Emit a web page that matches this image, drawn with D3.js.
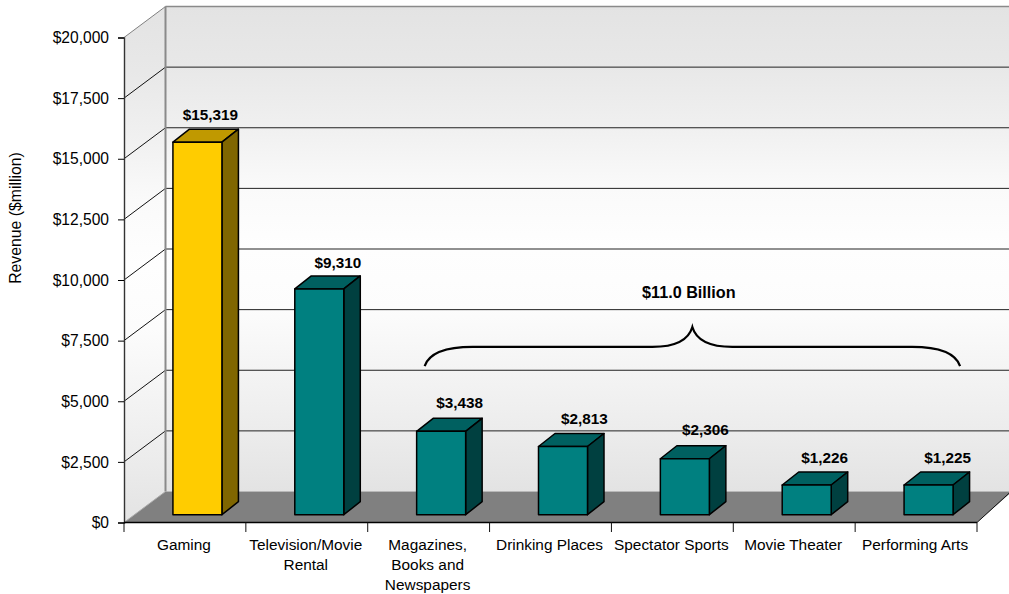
<!DOCTYPE html>
<html><head><meta charset="utf-8">
<script src="https://cdn.jsdelivr.net/npm/d3@7/dist/d3.min.js"></script>
<style>html,body{margin:0;padding:0;background:#fff}svg{display:block}text{font-family:"Liberation Sans",Arial,sans-serif;fill:#000}</style>
</head><body><svg id="c" width="1009" height="594"></svg>
<script>
const categories=[["Gaming"],["Television/Movie","Rental"],["Magazines,","Books and","Newspapers"],["Drinking Places"],["Spectator Sports"],["Movie Theater"],["Performing Arts"]];
const revenue=[15319,9310,3438,2813,2306,1226,1225];
const highlight=[true,false,false,false,false,false,false];
const yTicks=[0,2500,5000,7500,10000,12500,15000,17500,20000];
const axisTitle="Revenue ($million)";
const braceLabel="$11.0 Billion";

const svg=d3.select("#c");
const FS=15.4,FB=15.3;
const x=d3.scaleBand().domain(d3.range(categories.length)).range([124,977]).paddingInner(0).paddingOuter(0);
const y=d3.scaleLinear().domain([0,20000]).range([522.5,37.5]);
const fmt=v=>"$"+d3.format(",")(v);
const DX=41.5,DY=-31;
const defs=svg.append("defs");
const g=defs.append("linearGradient").attr("id","wall").attr("x1",0).attr("x2",0).attr("y1",0).attr("y2",1);
[[0,"#e3e3e3"],[.125,"#e8e8e8"],[.25,"#f0f0f0"],[.375,"#fafafa"],[.5,"#fefefe"],[.625,"#fcfcfc"],[.75,"#f4f4f4"],[.875,"#ececec"],[1,"#e3e3e3"]].forEach(s=>g.append("stop").attr("offset",s[0]).attr("stop-color",s[1]));
const x0=x.range()[0],x1=x.range()[1],y0=y(0),yT=y(20000);
const line=d3.line();
const poly=(pts,fill,stroke,w)=>svg.append("path").attr("d",line(pts)+"Z").attr("fill",fill).attr("stroke",stroke||"none").attr("stroke-width",w||0).attr("stroke-linejoin","round");
poly([[x0+DX,yT+DY],[1010,yT+DY],[1010,y0+DY],[x0+DX,y0+DY]],"url(#wall)");
poly([[x0,yT],[x0+DX,yT+DY],[x0+DX,y0+DY],[x0,y0]],"url(#wall)");
poly([[x0,y0],[x0+DX,y0+DY],[1012,y0+DY],[x1,y0]],"#808080");
yTicks.forEach(t=>{
  const top=t===20000,bot=t===0;
  if(!bot) svg.append("line").attr("x1",x0+DX).attr("x2",1010).attr("y1",y(t)+DY).attr("y2",y(t)+DY).attr("stroke",top?"#8a8a8a":"#222").attr("stroke-width",top?1.6:1);
  if(!bot) svg.append("line").attr("x1",x0).attr("x2",x0+DX).attr("y1",y(t)).attr("y2",y(t)+DY).attr("stroke",top?"#808080":"#111").attr("stroke-width",1);
});
svg.append("line").attr("x1",x0+DX).attr("x2",x0+DX).attr("y1",yT+DY).attr("y2",y0+DY).attr("stroke","#8a8a8a").attr("stroke-width",2);
svg.append("line").attr("x1",x0).attr("x2",x0+DX).attr("y1",y0).attr("y2",y0+DY).attr("stroke","#aaa").attr("stroke-width",1);
svg.append("line").attr("x1",x1).attr("x2",1012).attr("y1",y0).attr("y2",y0+DY*1.03).attr("stroke","#111").attr("stroke-width",1);
const yAxis=d3.axisLeft(y).tickValues(yTicks).tickFormat(fmt).tickSize(6).tickPadding(9);
const ya=svg.append("g").attr("transform",`translate(${x0},0)`).call(yAxis);
ya.select(".domain").attr("stroke","#333").attr("stroke-width",1.4);
ya.selectAll("text").attr("font-size",15.6).attr("fill","#000").attr("dy","0.33em");
svg.append("line").attr("x1",x0).attr("x2",x1).attr("y1",y0).attr("y2",y0).attr("stroke","#000").attr("stroke-width",1.3);
d3.range(categories.length+1).forEach(i=>{
  const tx=i<categories.length?x(i):x1;
  svg.append("line").attr("x1",tx).attr("x2",tx).attr("y1",y0).attr("y2",y0+9.5).attr("stroke","#111").attr("stroke-width",1);
});
const lab=svg.append("g");
categories.forEach((lines,i)=>lines.forEach((t,j)=>{
  lab.append("text").attr("x",x(i)+x.bandwidth()/2-1).attr("y",550+j*20).attr("text-anchor","middle").attr("font-size",FS).text(t);
}));
svg.append("text").attr("transform",`translate(21,218) rotate(-90)`).attr("text-anchor","middle").attr("font-size",15.8).text(axisTitle);
const BW=49,FX=12.5,FY=-7.8,SX=16.5,SY=-13;
const nudge=[-6,-0.5,-0.5,2.5,1.5,-1,0];
const nudgeY=[0,1,-1,0,-1.5,0,0];
revenue.forEach((v,i)=>{
  const l=x(i)+x.bandwidth()/2+FX-BW/2,r=l+BW,b=y(0)+FY,t=y(v)+FY-(i===0?1:0);
  const c=highlight[i]?["#ffcc00","#c09900","#806600"]:["#008080","#006060","#004040"];
  poly([[l,t],[r,t],[r+SX,t+SY],[l+SX,t+SY]],c[1],"#000",1.5);
  poly([[r,t],[r+SX,t+SY],[r+SX,b+SY],[r,b]],c[2],"#000",1.5);
  poly([[l,t],[r,t],[r,b],[l,b]],c[0],"#000",1.5);
  svg.append("text").attr("x",l+BW/2+19+nudge[i]).attr("y",t-22+nudgeY[i]).attr("text-anchor","middle").attr("font-size",FB).attr("font-weight","bold").text(fmt(v));
});
const bxL=x(2)+x.bandwidth()/2-4,bxR=x(6)+x.bandwidth()/2+44,bxM=(bxL+bxR)/2;
const bEnd=y(6450),bMid=y(7240),bTip=y(8060);
svg.append("path").attr("fill","none").attr("stroke","#000").attr("stroke-width",2.2).attr("d",
 `M${bxL},${bEnd}C${bxL+5},${bMid+5} ${bxL+24},${bMid} ${bxL+48},${bMid}L${bxM-40},${bMid}C${bxM-18},${bMid} ${bxM-4},${bMid-6} ${bxM},${bTip}C${bxM+4},${bMid-6} ${bxM+18},${bMid} ${bxM+40},${bMid}L${bxR-48},${bMid}C${bxR-24},${bMid} ${bxR-5},${bMid+5} ${bxR},${bEnd}`);
svg.append("text").attr("x",bxM-3.5).attr("y",298).attr("text-anchor","middle").attr("font-size",16.2).attr("font-weight","bold").text(braceLabel);
</script></body></html>
